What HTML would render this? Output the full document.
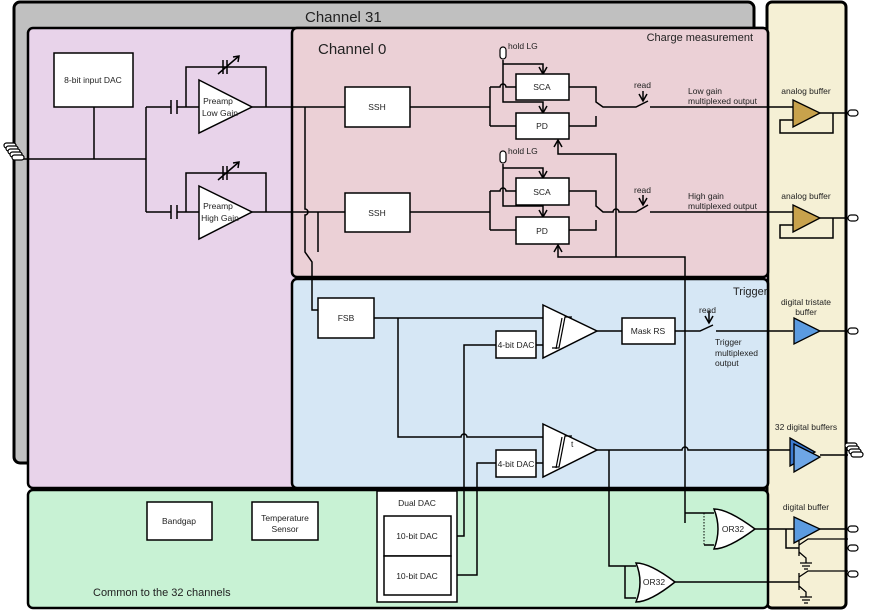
<!DOCTYPE html>
<html><head><meta charset="utf-8"><style>
html,body{margin:0;padding:0;background:#fff;}
svg{display:block;}
text{font-family:"Liberation Sans","DejaVu Sans",sans-serif;fill:#222;}
.s{font-size:8.5px;}
</style></head><body>
<svg width="872" height="611" viewBox="0 0 872 611" xmlns="http://www.w3.org/2000/svg">
<!-- Channel 31 -->
<rect x="14" y="2" width="740" height="461" rx="6" fill="#c0c0c0" stroke="#000" stroke-width="3"/>
<text x="305" y="22" font-size="15">Channel 31</text>
<!-- yellow -->
<rect x="767" y="2" width="79" height="606" rx="5" fill="#f5f0d5" stroke="#000" stroke-width="3"/>
<!-- purple -->
<rect x="28" y="28" width="740" height="460" rx="5" fill="#e8d3ea" stroke="#000" stroke-width="2.5"/>
<!-- pink -->
<rect x="292" y="28" width="476" height="249" rx="5" fill="#ebd0d6" stroke="#000" stroke-width="2.5"/>
<text x="318" y="54" font-size="15">Channel 0</text>
<text x="753" y="41" font-size="11" text-anchor="end">Charge measurement</text>
<!-- blue -->
<rect x="292" y="279" width="476" height="209" rx="5" fill="#d6e7f5" stroke="#000" stroke-width="2.5"/>
<text x="733" y="295" font-size="11">Trigger</text>
<!-- green -->
<rect x="28" y="490" width="740" height="118" rx="5" fill="#c8f2d4" stroke="#000" stroke-width="2.5"/>
<text x="93" y="596" font-size="11">Common to the 32 channels</text>

<g fill="none" stroke="#000" stroke-width="1.5">
<!-- input -->
<path d="M20,159 H146 M94,107 V159 M146,107 V212 M146,107 H171 M177,107 H199 M146,212 H171 M177,212 H199"/>
<path d="M171,100 V114 M177,100 V114 M171,205 V219 M177,205 V219"/>
<path d="M186,107 V67 H266 V107 M186,212 V173 H266 V212"/>
<path d="M252,107 H345 M410,107 H490 M252,212 H345 M410,212 H490"/>
<path d="M223,60 V74 M227,60 V74 M218,74 L239,56 M223,166 V180 M227,166 V180 M218,180 L239,162"/>
<path d="M233,57 L239,56 L238,62 M233,163 L239,162 L238,168"/>
<!-- vertical from preamps -->
<path d="M305,107 V209 A3,3 0 0 1 305,215 V252 L312,262 V310 H318 M318,212 V252"/>
<!-- SCA/PD channel 1 -->
<path d="M490,87 V126 M490,87 H500 A3,3 0 0 1 506,87 H516 M490,126 H516"/>
<path d="M503,60 V102 H543 V113"/>
<path d="M503,64 H543 V74"/>
<path d="M569,87 H596 V102 L603,107 H636 L648,101 M650,107 H793 M569,126 H596 V116"/>
<path d="M643,91 V101"/>
<!-- channel 2 -->
<path d="M490,191 V230 M490,191 H500 A3,3 0 0 1 506,191 H516 M490,230 H516"/>
<path d="M503,164 V206 H543 V217"/>
<path d="M503,168 H543 V178"/>
<path d="M569,191 H596 V206 L603,212 H613 A3,3 0 0 1 619,212 H636 L648,205 M650,212 H793 M569,230 H596 V220"/>
<path d="M643,195 V205"/>
<!-- arrowheads -->
<path d="M539,67 L543,74 L547,67 M539,106 L543,113 L547,106 M539,171 L543,178 L547,171 M539,210 L543,217 L547,210 M639,94 L643,101 L647,94 M639,198 L643,205 L647,198 M705,316 L709,323 L713,316"/>
<!-- PD arrows -->
<path d="M616,257 V154 H558 V140"/>
<path d="M685,523 V257 H558 V245"/>
<path d="M554,147 L558,140 L562,147 M554,252 L558,245 L562,252"/>
<!-- analog buffers loops -->
<path d="M820,113 H848 M833,113 V133 H780 V120 H793 M820,218 H848 M833,218 V238 H780 V225 H793"/>
<!-- trigger -->
<path d="M374,318 H543 M398,318 V437 H461 A3,3 0 0 1 467,437 H543 M597,331 H622 M675,331 H700 L713,325 M716,331 H793"/>
<path d="M709,311 V323"/>
<path d="M536,345 H543 M496,345 H464 V536 H451 M536,463 H543 M496,463 H477 V575 H451"/>
<path d="M597,450 H682 A3,3 0 0 1 688,450 H790 M609,450 V566 H636 M685,513 H714 M704,545 H714 M625,566 V598 H636 M820,455 H848"/>
<path d="M755,529 H848 M786,529 V548 H799 M675,582 H799"/>
<path d="M820,331 H848"/>
</g>
<path d="M704,513 V545 M625,566 V598" stroke="#000" stroke-width="1" stroke-dasharray="1.5,1.5"/>
<!-- boxes -->
<g fill="#fff" stroke="#000" stroke-width="1.5">
<rect x="54" y="53" width="79" height="54"/>
<rect x="345" y="87" width="65" height="40"/>
<rect x="345" y="193" width="65" height="39"/>
<rect x="516" y="74" width="53" height="26"/>
<rect x="516" y="113" width="53" height="26"/>
<rect x="516" y="178" width="53" height="27"/>
<rect x="516" y="217" width="53" height="27"/>
<rect x="318" y="298" width="56" height="40"/>
<rect x="496" y="331" width="40" height="27"/>
<rect x="496" y="450" width="40" height="27"/>
<rect x="622" y="318" width="53" height="26"/>
<rect x="147" y="502" width="65" height="38"/>
<rect x="252" y="502" width="66" height="38"/>
<rect x="377" y="491" width="80" height="111"/>
<rect x="384" y="516" width="67" height="40"/>
<rect x="384" y="556" width="67" height="39"/>
<polygon points="199,80 252,107 199,133"/>
<polygon points="199,186 252,212 199,239"/>
<polygon points="543,305 597,331 543,358"/>
<polygon points="543,424 597,450 543,477"/>
<path d="M714,509 Q728,509 755,529 Q728,549 714,549 Q722,529 714,509Z"/>
<path d="M636,563 Q650,563 675,582 Q650,602 636,602 Q644,582 636,563Z"/>
</g>
<path d="M552,348 H559 L565,317 H572 M556,349 L562,318 M552,467 H559 L565,436 H572 M556,468 L562,437" fill="none" stroke="#000" stroke-width="1.2"/>
<!-- buffers -->
<g stroke="#000" stroke-width="1.3">
<polygon points="793,100 820,113 793,127" fill="#c8a24c"/>
<polygon points="793,205 820,218 793,232" fill="#c8a24c"/>
<polygon points="794,318 820,331 794,344" fill="#5b9be0"/>
<polygon points="790,438 815,452 790,466" fill="#3c7ad0"/>
<polygon points="794,444 820,457 794,472" fill="#6ea6e6"/>
<polygon points="794,517 820,529 794,543" fill="#5b9be0"/>
</g>
<!-- transistors -->
<g fill="none" stroke="#000" stroke-width="1.3">
<path d="M799,541 V556 M799,545 L808,539 H848 M799,552 L806,558 V563 M800,563 H812 M802,566 H810 M804,569 H808"/>
<path d="M799,573 V590 M799,577 L808,571 H848 M799,586 L806,592 V597 M800,597 H812 M802,600 H810 M804,603 H808"/>
</g>
<!-- pins -->
<g fill="#fff" stroke="#000" stroke-width="1.2">
<rect x="848" y="110" width="10" height="6" rx="3"/>
<rect x="848" y="215" width="10" height="6" rx="3"/>
<rect x="848" y="328" width="10" height="6" rx="3"/>
<rect x="848" y="526" width="10" height="6" rx="3"/>
<rect x="848" y="545" width="10" height="6" rx="3"/>
<rect x="848" y="571" width="10" height="6" rx="3"/>
<rect x="500" y="47" width="6" height="12" rx="3"/>
<rect x="500" y="151" width="6" height="12" rx="3"/>
<rect x="845" y="443" width="12" height="5" rx="2.5"/>
<rect x="847" y="446" width="12" height="5" rx="2.5"/>
<rect x="849" y="449" width="12" height="5" rx="2.5"/>
<rect x="851" y="452" width="12" height="5" rx="2.5"/>
<rect x="4" y="143" width="12" height="5" rx="2.5"/>
<rect x="6" y="146" width="12" height="5" rx="2.5"/>
<rect x="8" y="149" width="12" height="5" rx="2.5"/>
<rect x="10" y="152" width="12" height="5" rx="2.5"/>
<rect x="12" y="155" width="12" height="5" rx="2.5"/>
</g>
<!-- labels -->
<g class="s">
<text x="93" y="83" text-anchor="middle">8-bit input DAC</text>
<text x="218" y="104" text-anchor="middle">Preamp</text>
<text x="220" y="116" text-anchor="middle">Low Gain</text>
<text x="218" y="209" text-anchor="middle">Preamp</text>
<text x="220" y="221" text-anchor="middle">High Gain</text>
<text x="377" y="110" text-anchor="middle">SSH</text>
<text x="377" y="216" text-anchor="middle">SSH</text>
<text x="542" y="90" text-anchor="middle">SCA</text>
<text x="542" y="129" text-anchor="middle">PD</text>
<text x="542" y="195" text-anchor="middle">SCA</text>
<text x="542" y="234" text-anchor="middle">PD</text>
<text x="508" y="49">hold LG</text>
<text x="508" y="154">hold LG</text>
<text x="634" y="88">read</text>
<text x="634" y="193">read</text>
<text x="688" y="94">Low gain</text>
<text x="688" y="104">multiplexed output</text>
<text x="688" y="199">High gain</text>
<text x="688" y="209">multiplexed output</text>
<text x="806" y="94" text-anchor="middle">analog buffer</text>
<text x="806" y="199" text-anchor="middle">analog buffer</text>
<text x="806" y="305" text-anchor="middle">digital tristate</text>
<text x="806" y="315" text-anchor="middle">buffer</text>
<text x="806" y="430" text-anchor="middle">32 digital buffers</text>
<text x="806" y="510" text-anchor="middle">digital buffer</text>
<text x="346" y="321" text-anchor="middle">FSB</text>
<text x="516" y="348" text-anchor="middle">4-bit DAC</text>
<text x="516" y="467" text-anchor="middle">4-bit DAC</text>
<text x="648" y="334" text-anchor="middle">Mask RS</text>
<text x="699" y="313">read</text>
<text x="715" y="345">Trigger</text>
<text x="715" y="356">multiplexed</text>
<text x="715" y="366">output</text>
<text x="571" y="447">t</text>
<text x="179" y="524" text-anchor="middle">Bandgap</text>
<text x="285" y="521" text-anchor="middle">Temperature</text>
<text x="285" y="532" text-anchor="middle">Sensor</text>
<text x="417" y="506" text-anchor="middle">Dual DAC</text>
<text x="417" y="539" text-anchor="middle">10-bit DAC</text>
<text x="417" y="579" text-anchor="middle">10-bit DAC</text>
<text x="733" y="532" text-anchor="middle">OR32</text>
<text x="654" y="585" text-anchor="middle">OR32</text>
</g>
</svg>
</body></html>
